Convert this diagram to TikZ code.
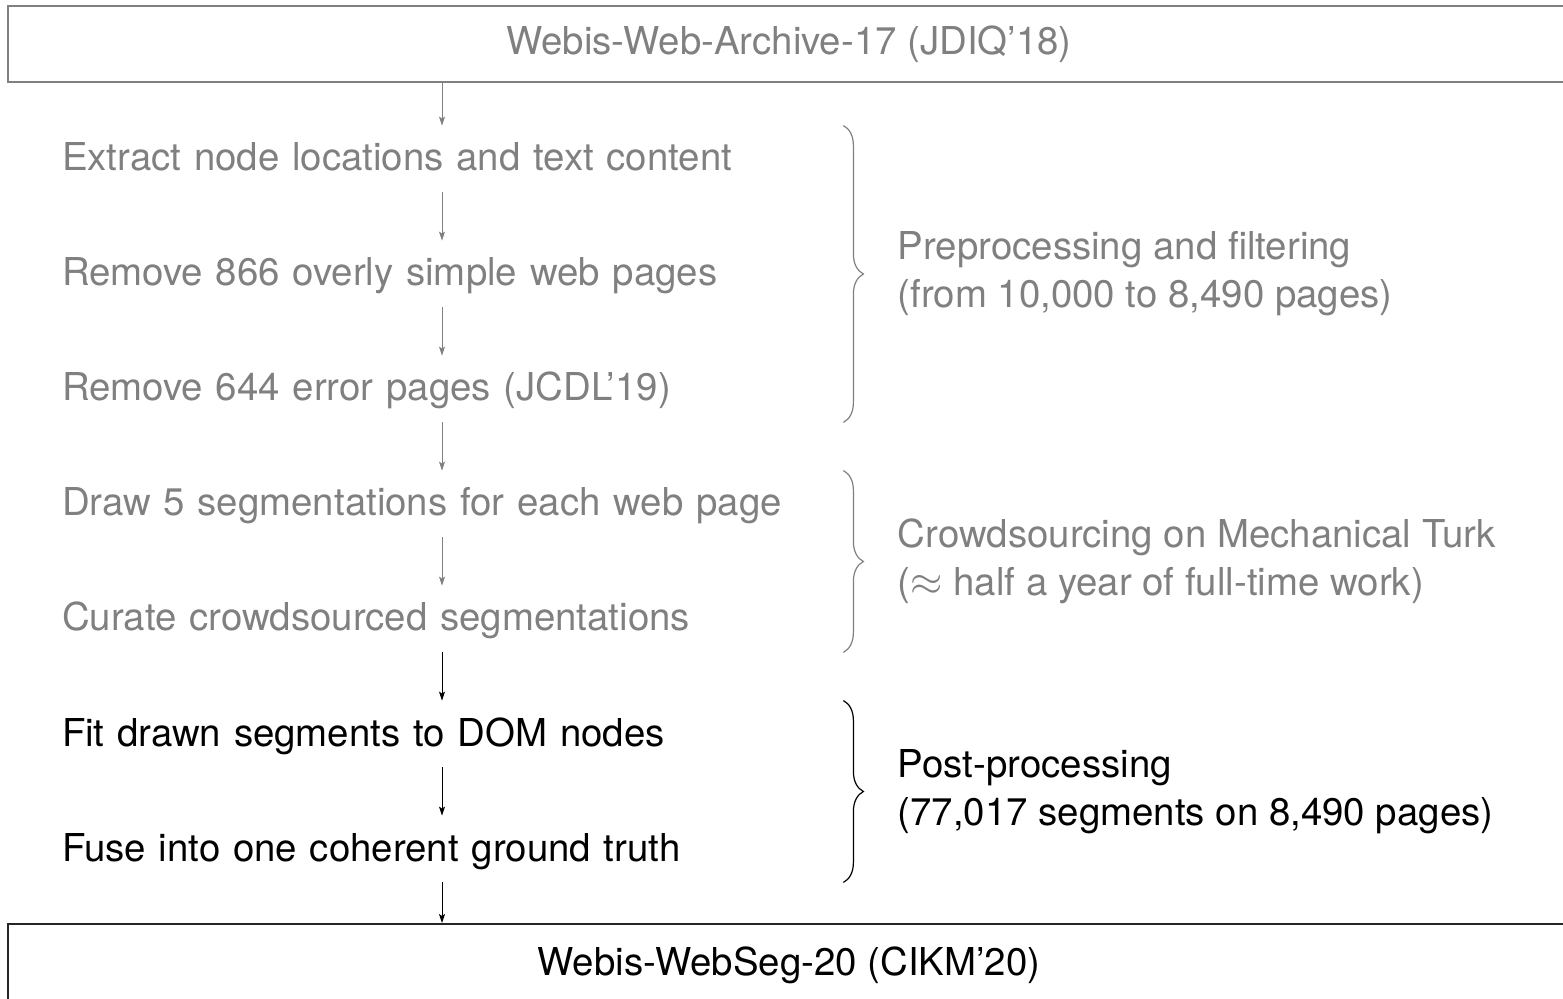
\documentclass[tikz,border=0pt]{standalone}
\usepackage{fontspec}
\setmainfont{TeX Gyre Heros}
\usetikzlibrary{arrows.meta,decorations.pathreplacing,calc}
\definecolor{muted}{gray}{0.5}
\begin{document}
\begin{tikzpicture}[x=0.5pt,y=-0.5pt,
  font=\fontsize{19.2}{24}\selectfont,
  box/.style={draw, line width=1pt, minimum width=781pt, inner sep=0pt},
  stepbox/.style={text width=380pt, align=left, inner xsep=0pt, inner ysep=7.5pt,
                  text height=15pt, text depth=3pt, anchor=base},
  flow/.style={-{Stealth[length=4.5pt,width=3pt,inset=1pt]}, line width=0.5pt},
  grp/.style={decorate, decoration={brace, amplitude=10pt}, line width=0.6pt},
  note/.style={anchor=west, align=left, inner sep=0pt, xshift=17pt}]
\useasboundingbox (0,0) rectangle (1563,999);
\clip (0,0) rectangle (1563,999);

% source and result data sets
\node[box, draw=muted, text=muted, minimum height=38pt] (src) at (789,44)
  {\raisebox{-1pt}{Webis-Web-Archive-17 (JDIQ'18)}};
\node[box, draw=black!85, minimum height=41pt] (dst) at (789,965)
  {Webis-WebSeg-20 (CIKM'20)};

% processing steps
\node[stepbox, text=muted] (s1) at (442,171) {Extract node locations and text content};
\node[stepbox, text=muted] (s2) at (442,286) {Remove 866 overly simple web pages};
\node[stepbox, text=muted] (s3) at (442,401) {Remove 644 error pages (JCDL'19)};
\node[stepbox, text=muted] (s4) at (442,516) {Draw 5 segmentations for each web page};
\node[stepbox, text=muted] (s5) at (442,631) {Curate crowdsourced segmentations};
\node[stepbox] (s6) at (442,746) {Fit drawn segments to DOM nodes};
\node[stepbox] (s7) at (442,861) {Fuse into one coherent ground truth};

% flow between steps
\draw[flow, muted] (src.south -| s1.north) -- (s1);
\draw[flow, muted] (s1) -- (s2);
\draw[flow, muted] (s2) -- (s3);
\draw[flow, muted] (s3) -- (s4);
\draw[flow, muted] (s4) -- (s5);
\draw[flow] (s5) -- (s6);
\draw[flow] (s6) -- (s7);
\draw[flow] (s7.south) -- (dst.north -| s7.south);

% phase braces
\coordinate (a1) at ([xshift=10.5pt]s1.north east);
\coordinate (e1) at ([xshift=10.5pt]s3.south east);
\coordinate (a2) at ([xshift=10.5pt]s4.north east);
\coordinate (e2) at ([xshift=10.5pt]s5.south east);
\coordinate (a3) at ([xshift=10.5pt]s6.north east);
\coordinate (e3) at ([xshift=10.5pt]s7.south east);
\draw[grp, muted] (a1) -- (e1);
\draw[grp, muted] (a2) -- (e2);
\draw[grp] (a3) -- (e3);
\coordinate (t1) at ($(a1)!0.5!(e1)+(20,0)$);
\coordinate (t2) at ($(a2)!0.5!(e2)+(20,0)$);
\coordinate (t3) at ($(a3)!0.5!(e3)+(20,0)$);

\node[note, text=muted] (n1) at (t1) {Preprocessing and filtering\\(from 10,000 to 8,490 pages)};
\node[note, text=muted] (n2) at (t2) {Crowdsourcing on Mechanical Turk\\($\approx$ half a year of full-time work)};
\node[note] (n3) at (t3) {Post-processing\\(77,017 segments on 8,490 pages)};
\end{tikzpicture}
\end{document}
